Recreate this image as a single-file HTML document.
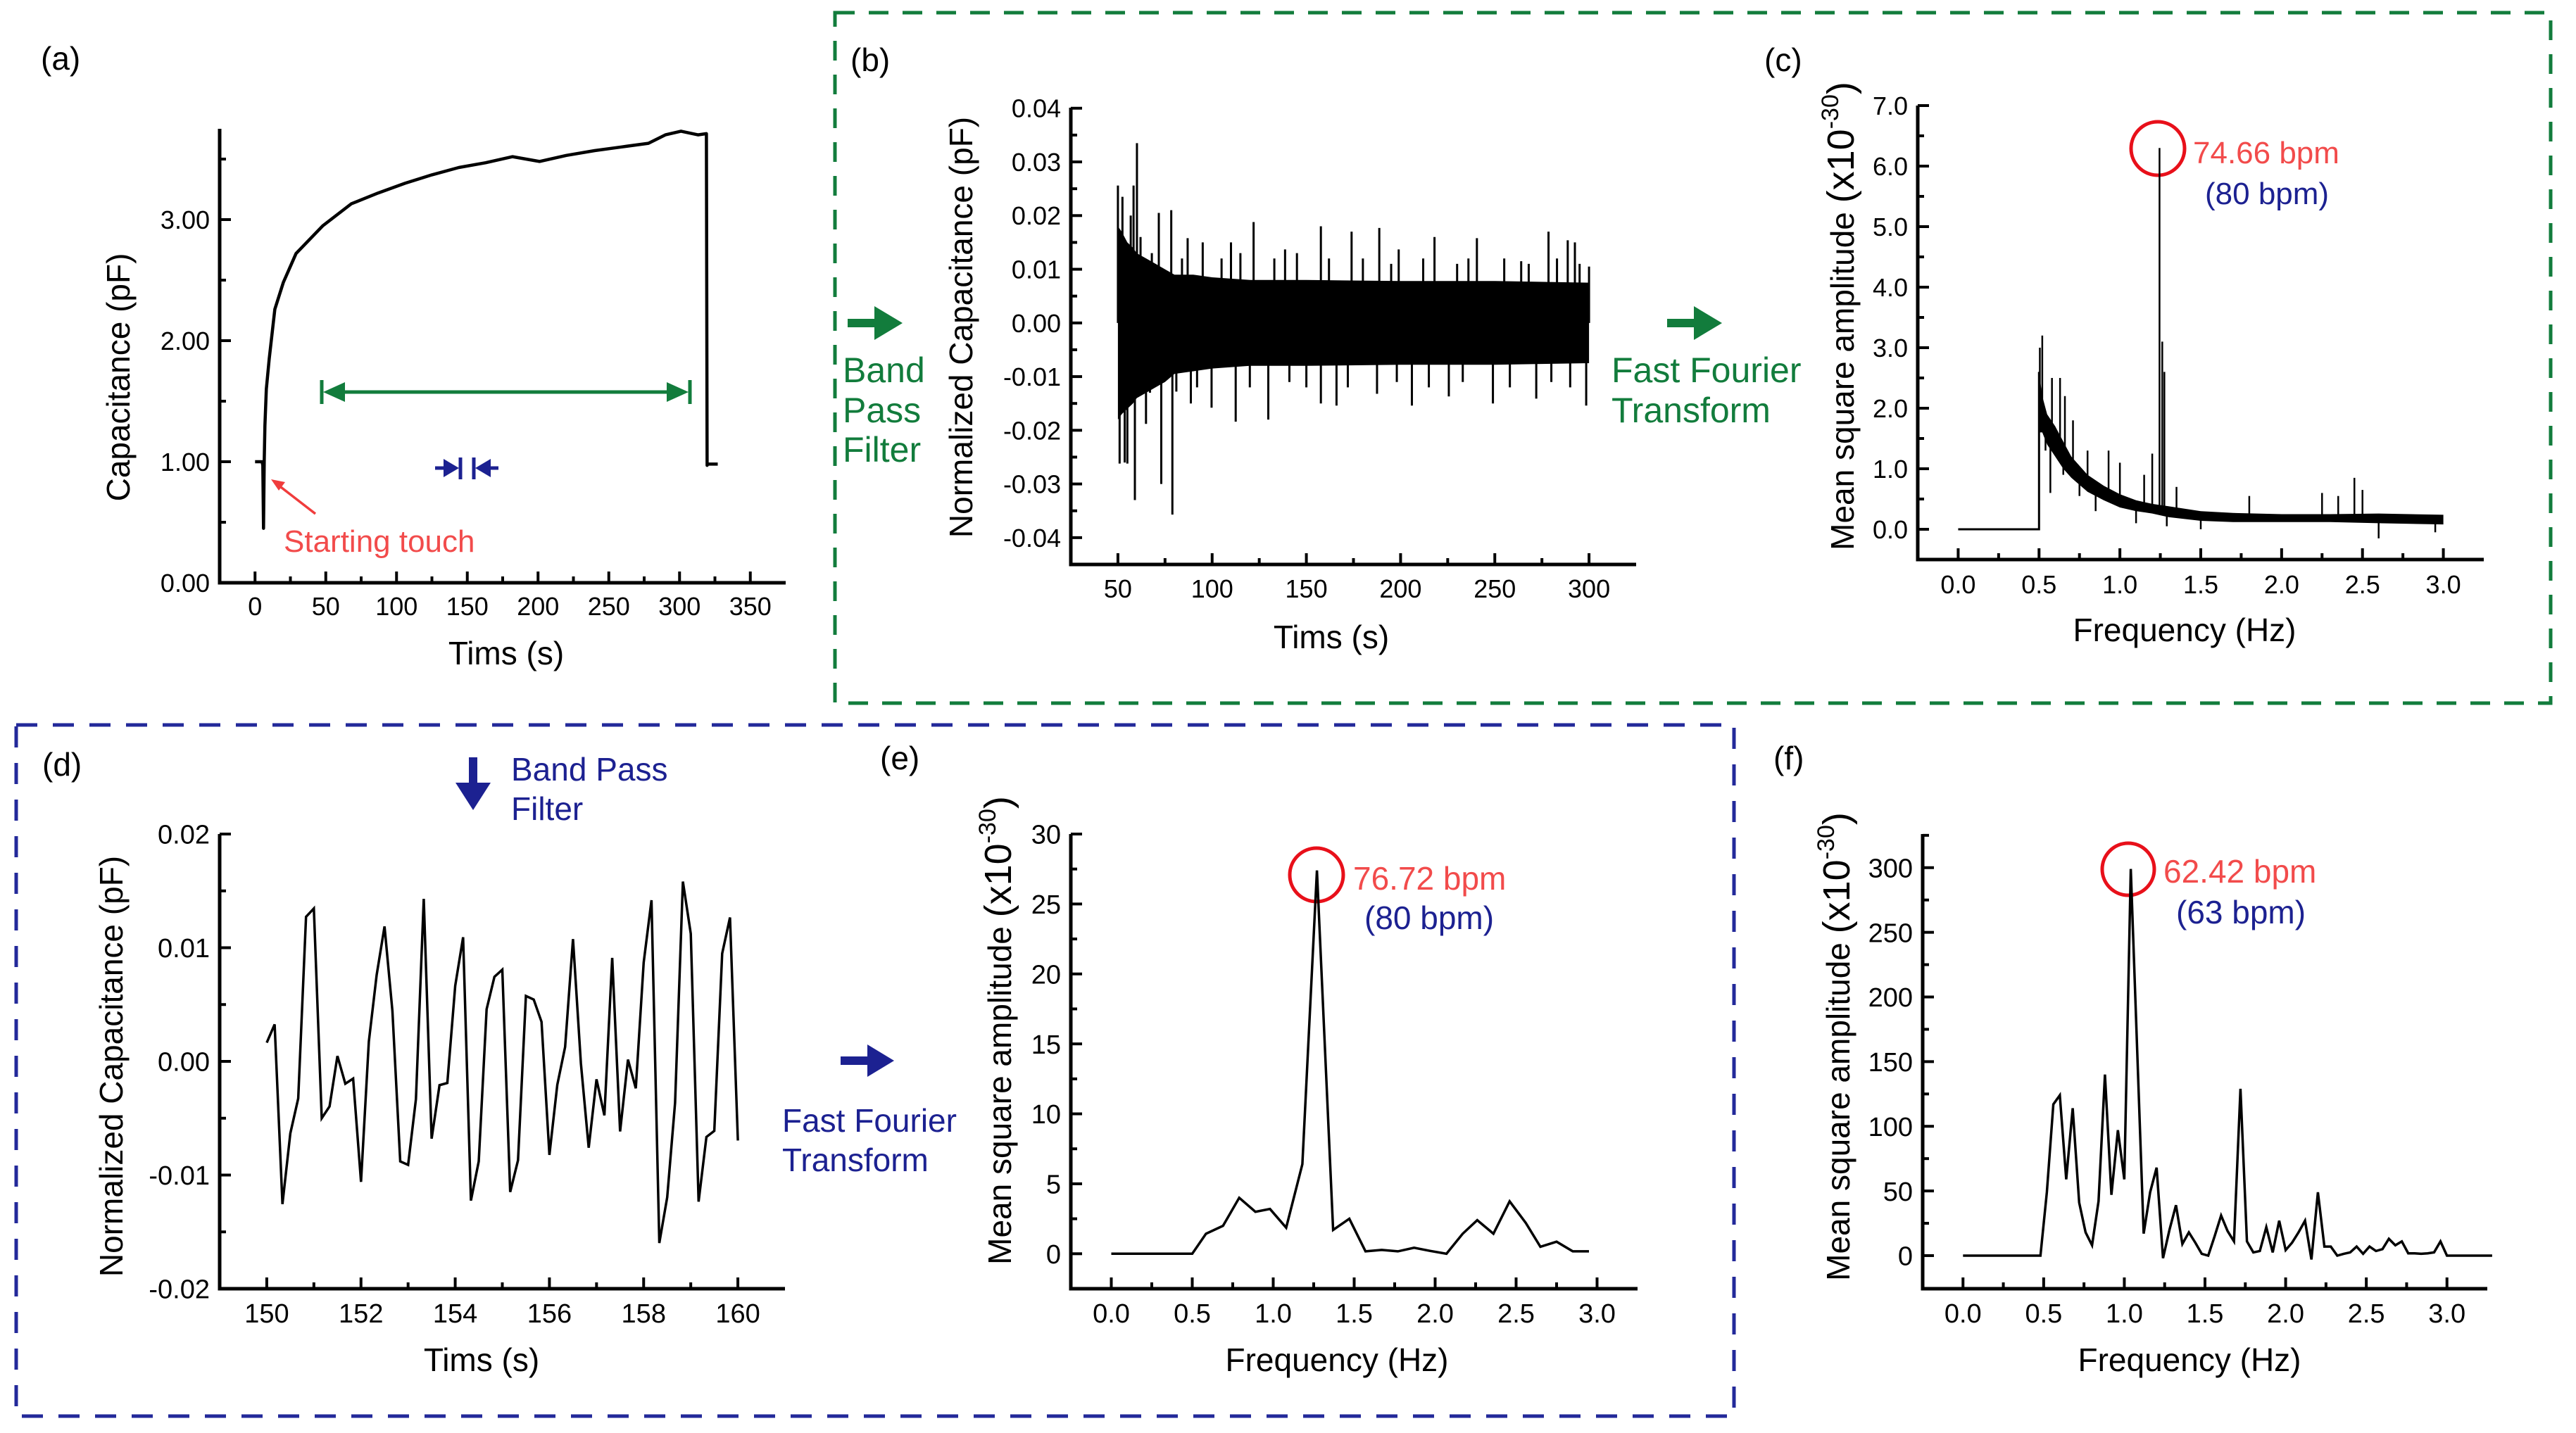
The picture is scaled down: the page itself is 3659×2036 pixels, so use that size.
<!DOCTYPE html>
<html><head><meta charset="utf-8"><style>
html,body{margin:0;padding:0;background:#fff;}
svg{display:block;font-family:"Liberation Sans",Arial,sans-serif;}
</style></head><body>
<svg id="fig" xmlns="http://www.w3.org/2000/svg" width="3659" height="2036" viewBox="0 0 3659 2036">
<rect x="0" y="0" width="3659" height="2036" fill="#fff"/>
<rect x="1186" y="18" width="2437" height="981" fill="none" stroke="#127c3c" stroke-width="5" stroke-dasharray="28 20"/>
<rect x="23" y="1030" width="2440" height="982" fill="none" stroke="#23299a" stroke-width="5" stroke-dasharray="30 22"/>
<g font-size="46" fill="#000">
<text x="58" y="99">(a)</text>
<text x="1208" y="101">(b)</text>
<text x="2506" y="101">(c)</text>
<text x="60" y="1102">(d)</text>
<text x="1250" y="1093">(e)</text>
<text x="2519" y="1093">(f)</text>
</g>
<g stroke="#127c3c" fill="#127c3c">
<line x1="470" y1="557" x2="968" y2="557" stroke-width="5"/>
<line x1="457" y1="540" x2="457" y2="574" stroke-width="5"/>
<line x1="980" y1="540" x2="980" y2="574" stroke-width="5"/>
<polygon points="459,557 490,543 490,571" stroke="none"/>
<polygon points="978,557 947,543 947,571" stroke="none"/>
</g>
<g stroke="#1c2191" fill="#1c2191">
<line x1="618" y1="665" x2="636" y2="665" stroke-width="5"/>
<polygon points="652,665 630,652 630,678" stroke="none"/>
<line x1="654" y1="650" x2="654" y2="681" stroke-width="5"/>
<line x1="673" y1="650" x2="673" y2="681" stroke-width="5"/>
<polygon points="675,665 697,652 697,678" stroke="none"/>
<line x1="690" y1="665" x2="708" y2="665" stroke-width="5"/>
</g>
<g stroke="#f03c3c" fill="#f03c3c">
<line x1="448" y1="730" x2="395" y2="689" stroke-width="3.5"/>
<polygon points="385,681 405,685 396,697" stroke="none"/>
</g>
<text x="403" y="784" font-size="44" fill="#f24b4b">Starting touch</text>
<g fill="#127c3c">
<rect x="1204" y="453" width="42" height="12"/><polygon points="1242,435 1242,483 1282,459"/>
</g>
<g font-size="50" fill="#127c3c">
<text x="1197" y="543">Band<tspan x="1197" y="600">Pass</tspan><tspan x="1197" y="656">Filter</tspan></text>
<text x="2289" y="543">Fast Fourier<tspan x="2289" y="600">Transform</tspan></text>
</g>
<g fill="#127c3c">
<rect x="2368" y="453" width="42" height="12"/><polygon points="2406,435 2406,483 2446,459"/>
</g>
<g fill="#1c2191">
<rect x="666" y="1076" width="12" height="40"/><polygon points="647,1112 697,1112 672,1151"/>
</g>
<text x="726" y="1109" font-size="46" fill="#1c2191">Band Pass<tspan x="726" y="1165">Filter</tspan></text>
<g fill="#1c2191">
<rect x="1194" y="1501" width="42" height="12"/><polygon points="1232,1484 1232,1530 1270,1507"/>
</g>
<text x="1111" y="1608" font-size="46" fill="#1c2191">Fast Fourier<tspan x="1111" y="1664">Transform</tspan></text>
<circle cx="3065" cy="211" r="38" fill="none" stroke="#e8101a" stroke-width="5"/>
<text x="3115" y="232" font-size="44" fill="#f24b4b">74.66 bpm</text>
<text x="3132" y="290" font-size="44" fill="#1c2191">(80 bpm)</text>
<circle cx="1870" cy="1243" r="38" fill="none" stroke="#e8101a" stroke-width="5"/>
<text x="1922" y="1264" font-size="46" fill="#f24b4b">76.72 bpm</text>
<text x="1938" y="1320" font-size="46" fill="#1c2191">(80 bpm)</text>
<circle cx="3023" cy="1235" r="37" fill="none" stroke="#e8101a" stroke-width="5"/>
<text x="3073" y="1254" font-size="46" fill="#f24b4b">62.42 bpm</text>
<text x="3091" y="1312" font-size="46" fill="#1c2191">(63 bpm)</text>
</svg>
<script>
const aTime = [0,5,5.5,6,6.5,7,8,10,14,20,29,48,68,87,106,125,144,163,182,201,220,240,259,278,290,301,313,319,319.5,320,327];
const aCap  = [1.0,1.0,0.97,0.45,1.0,1.3,1.6,1.85,2.26,2.48,2.72,2.95,3.13,3.22,3.3,3.37,3.43,3.47,3.52,3.48,3.53,3.57,3.6,3.63,3.7,3.73,3.7,3.71,0.97,0.98,0.98];
const aXTicks = [0,50,100,150,200,250,300,350];
const aYTicks = [0,1,2,3];
const aYLabels = ['0.00','1.00','2.00','3.00'];

const bEnvTime = [50,52,55,58,60,65,70,75,80,90,100,120,150,200,250,300];
const bEnvHi = [0.018,0.017,0.015,0.014,0.013,0.012,0.011,0.010,0.009,0.009,0.0085,0.008,0.008,0.0078,0.0078,0.0075];
const bEnvLo = [-0.018,-0.017,-0.016,-0.015,-0.014,-0.013,-0.012,-0.011,-0.0095,-0.009,-0.0085,-0.008,-0.008,-0.0078,-0.0078,-0.0075];
const bSpikeTime = [50,52.4,56.8,58.3,60.1,62,71.7,78.3,87,95,110,122,138.7,157.7,174,188.7,199,218,240.5,264,278.5,288.7,292.5,300,
  50.9,53.6,55,59,64.9,73,78.9,81,88.7,99.7,112.5,129.8,157.7,166,187.5,206,225.6,249,272,298.5,
  68,84,105,115,133,145,162,180,195,212,230,236,255,268,283,295,
  67,92,120,141,150,172,198,215,233,258,280,290];
const bSpikeVal = [0.0256,0.0235,0.020,0.0256,0.0335,0.016,0.0205,0.021,0.0158,0.015,0.015,0.0188,0.0137,0.018,0.017,0.0177,0.0137,0.016,0.0158,0.0115,0.017,0.0154,0.015,0.0105,
  -0.0262,-0.026,-0.0262,-0.033,-0.0188,-0.030,-0.0357,-0.0128,-0.015,-0.0158,-0.0184,-0.018,-0.015,-0.0154,-0.0132,-0.0154,-0.0137,-0.015,-0.0141,-0.0154,
  0.013,0.012,0.012,0.013,0.012,0.013,0.012,0.012,0.011,0.012,0.011,0.012,0.012,0.011,0.012,0.011,
  -0.013,-0.012,-0.012,-0.011,-0.012,-0.012,-0.011,-0.012,-0.011,-0.012,-0.011,-0.012];
const bXTicks = [50,100,150,200,250,300];
const bYTicks = [-0.04,-0.03,-0.02,-0.01,0,0.01,0.02,0.03,0.04];
const bYLabels = ['-0.04','-0.03','-0.02','-0.01','0.00','0.01','0.02','0.03','0.04'];

const cEnvFreq = [0.5,0.52,0.55,0.6,0.65,0.7,0.8,0.9,1.0,1.1,1.2,1.3,1.4,1.5,1.7,2.0,2.3,2.6,3.0];
const cEnvHi = [2.6,2.2,1.9,1.7,1.45,1.2,0.9,0.72,0.58,0.48,0.42,0.38,0.34,0.3,0.27,0.25,0.25,0.26,0.24];
const cEnvLo = [1.6,1.6,1.4,1.2,1.0,0.85,0.62,0.48,0.36,0.3,0.26,0.2,0.17,0.14,0.12,0.12,0.12,0.1,0.08];
const cSpikeFreq = [0.505,0.52,0.58,0.63,0.66,0.71,0.8,0.93,1.0,1.15,1.2,1.245,1.262,1.275,2.25,2.45,2.5,0.54,0.57,0.65,0.75,1.1,1.29,1.5,2.6,2.95,0.85,1.35,1.8,2.35];
const cSpikeVal = [3.0,3.2,2.5,2.5,2.2,1.8,1.3,1.3,1.1,0.9,1.25,6.3,3.1,2.6,0.6,0.85,0.65,1.3,0.6,0.9,0.55,0.1,0.05,0.0,-0.15,-0.05,0.3,0.7,0.55,0.55];
const cXTicks = [0,0.5,1,1.5,2,2.5,3];
const cXLabels = ['0.0','0.5','1.0','1.5','2.0','2.5','3.0'];
const cYTicks = [0,1,2,3,4,5,6,7];
const cYLabels = ['0.0','1.0','2.0','3.0','4.0','5.0','6.0','7.0'];

const dTime = [150,150.167,150.333,150.5,150.667,150.833,151,151.167,151.333,151.5,151.667,151.833,152,152.167,152.333,152.5,152.667,152.833,153,153.167,153.333,153.5,153.667,153.833,154,154.167,154.333,154.5,154.667,154.833,155,155.167,155.333,155.5,155.667,155.833,156,156.167,156.333,156.5,156.667,156.833,157,157.167,157.333,157.5,157.667,157.833,158,158.167,158.333,158.5,158.667,158.833,159,159.167,159.333,159.5,159.667,159.833,160];
const dCap = [0.00165,0.00326,-0.01256,-0.00633,-0.00326,0.01272,0.01345,-0.005,-0.00396,0.00047,-0.00196,-0.00152,-0.0106,0.00174,0.0076,0.01187,0.00443,-0.0088,-0.00911,-0.00332,0.0143,-0.0068,-0.00209,-0.0019,0.00665,0.01092,-0.01225,-0.0088,0.00459,0.00744,0.00807,-0.01149,-0.0087,0.00576,0.00544,0.00348,-0.00823,-0.00206,0.00127,0.01076,-0.00016,-0.0076,-0.00158,-0.00475,0.00911,-0.00617,0.00016,-0.00237,0.0087,0.01418,-0.01598,-0.01196,-0.00364,0.01582,0.01123,-0.01234,-0.00665,-0.00611,0.00949,0.01266,-0.00696];
const dXTicks = [150,152,154,156,158,160];
const dYTicks = [-0.02,-0.01,0,0.01,0.02];
const dYLabels = ['-0.02','-0.01','0.00','0.01','0.02'];

const eFreq = [0,0.5,0.585,0.69,0.79,0.89,0.98,1.08,1.18,1.27,1.37,1.47,1.57,1.67,1.77,1.87,1.97,2.07,2.17,2.26,2.36,2.46,2.56,2.65,2.75,2.85,2.95];
const eAmp = [0,0,1.43,2.0,4.0,3.0,3.2,1.86,6.4,27.4,1.7,2.5,0.17,0.27,0.17,0.43,0.2,0,1.43,2.4,1.43,3.75,2.2,0.5,0.86,0.17,0.17];
const eYTicks = [0,5,10,15,20,25,30];

const fFreq = [0,0.48,0.52,0.56,0.6,0.64,0.68,0.72,0.76,0.8,0.84,0.88,0.92,0.96,1.0,1.04,1.12,1.16,1.2,1.24,1.28,1.32,1.36,1.4,1.44,1.48,1.52,1.56,1.6,1.64,1.68,1.72,1.76,1.8,1.84,1.88,1.92,1.96,2.0,2.04,2.08,2.12,2.16,2.2,2.24,2.28,2.32,2.36,2.4,2.44,2.48,2.52,2.56,2.6,2.64,2.68,2.72,2.76,2.8,2.84,2.88,2.92,2.96,3.0,3.28];
const fAmp = [0,0,49,117,124,59,114,41,18,8,42,140,47,97,59,299,17,49,68,-2,20,39,9,18,10,1.4,0,15,31,19,11,129,11,2.5,3.6,22,2.5,27,4.3,10,18,27,-3,49,7,7,0,1.4,2.5,7,1.4,7,3.6,5,13,8,11,1.8,1.8,1.4,1.8,2.5,11,0,0];
const fYTicks = [0,50,100,150,200,250,300];

const svg = document.getElementById('fig');
const NS = 'http://www.w3.org/2000/svg';
function mk(tag, attrs, parent){
  const e = document.createElementNS(NS, tag);
  for (const k in attrs) e.setAttribute(k, attrs[k]);
  (parent || svg).appendChild(e);
  return e;
}

function makePanel(P){
  P.X = v => P.px0 + (v - P.xmin) / (P.xmax - P.xmin) * (P.px1 - P.px0);
  P.Y = v => P.py0 - (v - P.ymin) / (P.ymax - P.ymin) * (P.py0 - P.py1);
  const g = mk('g', {});
  
  
  const ax = mk('path', {d:`M${P.px0},${P.py1} L${P.px0},${P.py0} L${P.px1},${P.py0}`, fill:'none', stroke:'#000', 'stroke-width':5}, g);
  
  
  const fs = P.tickFont;
  P.xTicks.forEach((v, i) => {
    const x = P.X(v);
    const t = mk('line', {x1:x, y1:P.py0, x2:x, y2:P.py0 - 16, stroke:'#000', 'stroke-width':4}, g);
    
    
    const lb = mk('text', {x:x, y:P.py0 + P.xLabOff, 'font-size':fs, 'text-anchor':'middle'}, g);
    lb.textContent = P.xLabels ? P.xLabels[i] : String(v);
    
    
    const step = (i < P.xTicks.length - 1) ? (P.xTicks[i+1] - v) : (v - P.xTicks[i-1]);
    const mv = v + step / 2;
    if (mv < P.xmax) {
      const mx = P.X(mv);
      const m = mk('line', {x1:mx, y1:P.py0, x2:mx, y2:P.py0 - 9, stroke:'#000', 'stroke-width':4}, g);
      
      
    }
  });
  P.yTicks.forEach((v, i) => {
    const y = P.Y(v);
    const t = mk('line', {x1:P.px0, y1:y, x2:P.px0 + 16, y2:y, stroke:'#000', 'stroke-width':4}, g);
    
    
    const lb = mk('text', {x:P.px0 - 14, y:y + fs * 0.36, 'font-size':fs, 'text-anchor':'end'}, g);
    lb.textContent = P.yLabels ? P.yLabels[i] : String(v);
    
    
    const step = (i < P.yTicks.length - 1) ? (P.yTicks[i+1] - v) : (v - P.yTicks[i-1]);
    const mv = v + step / 2;
    if (mv < P.ymax + 1e-9) {
      const my = P.Y(mv);
      const m = mk('line', {x1:P.px0, y1:my, x2:P.px0 + 9, y2:my, stroke:'#000', 'stroke-width':4}, g);
      
      
    }
  });
  const xt = mk('text', {x:P.xTitleX, y:P.xTitleY, 'font-size':46, 'text-anchor':'middle'}, g);
  xt.textContent = P.xTitle;
  
  
  const yt = mk('text', {x:0, y:0, 'font-size':46, 'text-anchor':'middle', transform:`translate(${P.yTitleX},${P.yTitleY}) rotate(-90)`}, g);
  if (P.yTitleSup) {
    const s1 = mk('tspan', {}, yt); s1.textContent = P.yTitle + '  ';
    const s2 = mk('tspan', {'font-size':54}, yt); s2.textContent = '(x10';
    const s3 = mk('tspan', {'font-size':34, dy:-22}, yt); s3.textContent = '-30';
    const s4 = mk('tspan', {'font-size':54, dy:22}, yt); s4.textContent = ')';
  } else {
    yt.textContent = P.yTitle;
  }
  
  
  return P;
}
function linePath(P, xs, ys){
  return xs.map((x, i) => `${i ? 'L' : 'M'}${P.X(x).toFixed(1)},${P.Y(ys[i]).toFixed(1)}`).join(' ');
}
function interp(xs, ys, x){
  if (x <= xs[0]) return ys[0];
  for (let i = 1; i < xs.length; i++) if (x <= xs[i]) { const t = (x - xs[i-1]) / (xs[i] - xs[i-1]); return ys[i-1] + t * (ys[i] - ys[i-1]); }
  return ys[ys.length - 1];
}

const PA = makePanel({name:'panel-a', px0:312, px1:1116, py0:828, py1:183, xmin:-25, xmax:375, ymin:0, ymax:3.75,
  xTicks:aXTicks, yTicks:aYTicks, yLabels:aYLabels, tickFont:36, xLabOff:46,
  xTitle:'Tims (s)', xTitleX:719, xTitleY:944, yTitle:'Capacitance (pF)', yTitleX:184, yTitleY:536});
const aLine = mk('path', {d:linePath(PA, aTime, aCap), fill:'none', stroke:'#000', 'stroke-width':4.5, 'stroke-linejoin':'round'});



const PB = makePanel({name:'panel-b', px0:1521, px1:2324, py0:802, py1:153, xmin:25, xmax:325, ymin:-0.045, ymax:0.0401,
  xTicks:bXTicks, yTicks:bYTicks, yLabels:bYLabels, tickFont:36, xLabOff:47,
  xTitle:'Tims (s)', xTitleX:1891, xTitleY:921, yTitle:'Normalized Capacitance (pF)', yTitleX:1381, yTitleY:465});
{
  const up = bEnvTime.map((t, i) => `${PB.X(t).toFixed(1)},${PB.Y(bEnvHi[i]).toFixed(1)}`);
  const lo = bEnvTime.map((t, i) => `${PB.X(t).toFixed(1)},${PB.Y(bEnvLo[i]).toFixed(1)}`).reverse();
  const band = mk('polygon', {points:up.concat(lo).join(' '), fill:'#000'});
  
  
  bSpikeTime.forEach((t, i) => {
    const s = mk('line', {x1:PB.X(t), x2:PB.X(t), y1:PB.Y(0), y2:PB.Y(bSpikeVal[i]), stroke:'#000', 'stroke-width':3});
    
    
  });
}

const PC = makePanel({name:'panel-c', px0:2724, px1:3528, py0:795, py1:150, xmin:-0.25, xmax:3.25, ymin:-0.5, ymax:7.0,
  xTicks:cXTicks, xLabels:cXLabels, yTicks:cYTicks, yLabels:cYLabels, tickFont:36, xLabOff:48,
  xTitle:'Frequency (Hz)', xTitleX:3103, xTitleY:911, yTitle:'Mean square amplitude', yTitleSup:true, yTitleX:2633, yTitleY:449});
{
  const flat = mk('path', {d:`M${PC.X(0)},${PC.Y(0)} L${PC.X(0.5)},${PC.Y(0)} L${PC.X(0.5)},${PC.Y(cEnvHi[0])}`, fill:'none', stroke:'#000', 'stroke-width':3});
  
  
  const up = cEnvFreq.map((f, i) => `${PC.X(f).toFixed(1)},${PC.Y(cEnvHi[i]).toFixed(1)}`);
  const lo = cEnvFreq.map((f, i) => `${PC.X(f).toFixed(1)},${PC.Y(cEnvLo[i]).toFixed(1)}`).reverse();
  const band = mk('polygon', {points:up.concat(lo).join(' '), fill:'#000'});
  
  
  cSpikeFreq.forEach((f, i) => {
    const mid = (interp(cEnvFreq, cEnvHi, f) + interp(cEnvFreq, cEnvLo, f)) / 2;
    const s = mk('line', {x1:PC.X(f), x2:PC.X(f), y1:PC.Y(mid), y2:PC.Y(cSpikeVal[i]), stroke:'#000', 'stroke-width':2.5});
    
    
  });
}

const PD = makePanel({name:'panel-d', px0:312, px1:1115, py0:1831, py1:1185, xmin:149, xmax:161, ymin:-0.02, ymax:0.02,
  xTicks:dXTicks, yTicks:dYTicks, yLabels:dYLabels, tickFont:38, xLabOff:48,
  xTitle:'Tims (s)', xTitleX:684, xTitleY:1948, yTitle:'Normalized Capacitance (pF)', yTitleX:174, yTitleY:1515});
const dLine = mk('path', {d:linePath(PD, dTime, dCap), fill:'none', stroke:'#000', 'stroke-width':3.5});



const PE = makePanel({name:'panel-e', px0:1521, px1:2326, py0:1831, py1:1185, xmin:-0.25, xmax:3.25, ymin:-2.5, ymax:30,
  xTicks:cXTicks, xLabels:cXLabels, yTicks:eYTicks, tickFont:38, xLabOff:48,
  xTitle:'Frequency (Hz)', xTitleX:1899, xTitleY:1948, yTitle:'Mean square amplitude', yTitleSup:true, yTitleX:1436, yTitleY:1464});
const eLine = mk('path', {d:linePath(PE, eFreq, eAmp), fill:'none', stroke:'#000', 'stroke-width':3.5});



const PF = makePanel({name:'panel-f', px0:2731, px1:3533, py0:1831, py1:1185, xmin:-0.25, xmax:3.25, ymin:-25.6, ymax:326,
  xTicks:cXTicks, xLabels:cXLabels, yTicks:fYTicks, tickFont:38, xLabOff:48,
  xTitle:'Frequency (Hz)', xTitleX:3110, xTitleY:1948, yTitle:'Mean square amplitude', yTitleSup:true, yTitleX:2627, yTitleY:1487});
const fLine = mk('path', {d:linePath(PF, fFreq, fAmp), fill:'none', stroke:'#000', 'stroke-width':3.5});


</script>
</body></html>
